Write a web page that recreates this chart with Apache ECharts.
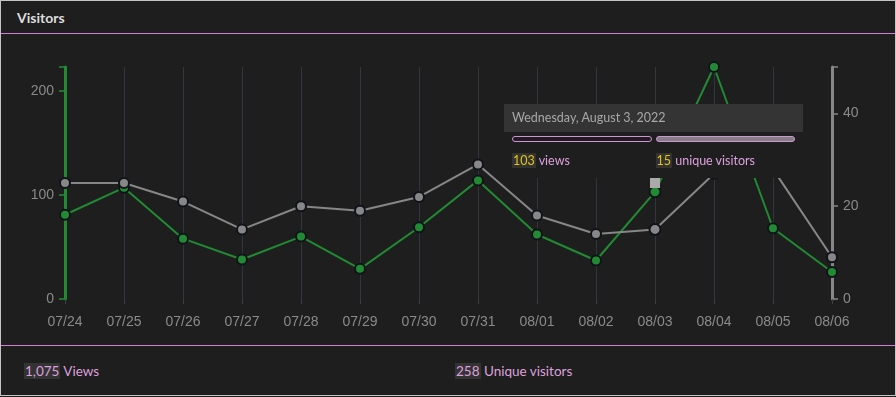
<!DOCTYPE html>
<html lang="en">
<head>
  <meta charset="UTF-8">
  <title>Visitors</title>
  <script src="https://cdn.jsdelivr.net/npm/echarts@6/dist/echarts.min.js"></script>
  <style>
    body { margin: 0; background: #1e1e1e; font-family: Lato, "Open Sans", sans-serif; }
    .panel { position: absolute; left: 0; top: 0; width: 894px; height: 394px; border: 1px solid #c4c4c4; background: #1e1e1e; }
    .panel-heading { height: 33px; border-bottom: 1px solid #cf7fd6; color: #dcdcdc; font-weight: 700; font-size: 14px; line-height: 33px; padding-left: 16px; box-sizing: border-box; }
    #visitors { position: absolute; left: 0; top: 34px; width: 894px; height: 310px; }
    .panel-footer { position: absolute; left: 0; top: 344px; width: 894px; height: 50px; border-top: 1px solid #cf7fd6; color: #dda0dd; font-size: 13.5px; }
    .panel-footer span.stat { position: absolute; top: 16px; line-height: 19px; }
    .num { background: #333; padding: 0 1px; }
  </style>
</head>
<body>

<div class="panel">
  <div class="panel-heading">Visitors</div>
  <div id="visitors"></div>
  <div class="panel-footer">
    <span class="stat" style="left:23px"><span class="num" id="totalViews"></span> Views</span>
    <span class="stat" style="left:454px"><span class="num" id="totalUnique"></span> Unique visitors</span>
  </div>
</div>

<script>
  // daily stats, 2022
  var year = 2022;
  var days = ["07/24", "07/25", "07/26", "07/27", "07/28", "07/29", "07/30", "07/31", "08/01", "08/02", "08/03", "08/04", "08/05", "08/06"];
  var views = [81, 107, 58, 38, 60, 29, 69, 114, 62, 37, 103, 223, 68, 26];
  var uniques = [25, 25, 21, 15, 20, 19, 22, 29, 18, 14, 15, 27, 28, 9];
  var viewTicks = [0, 100, 200];
  var uniqueTicks = [0, 20, 40];
  var uniqueMax = 50;
  var totalViews = "1,075";
  var totalUnique = "258";
  var hoverIndex = 10;

  var labelColor = "#8a8a8a";
  var green = "#218a33";
  var gray = "#878787";

  document.getElementById("totalViews").textContent = totalViews;
  document.getElementById("totalUnique").textContent = totalUnique;

  function longDate(day) {
    var d = new Date(year + "/" + day);
    return d.toLocaleDateString("en-US", {weekday: "long", year: "numeric", month: "long", day: "numeric"});
  }

  function tipHtml(params) {
    var i = params[0].dataIndex;
    var bar = "height:4px;border:1px solid #d690dc;border-radius:3px;flex:1;";
    var num = "background:#333;color:#e6c419;padding:0 1px;";
    return '<div style="position:relative;width:299px;height:74px;font-family:Lato,sans-serif;font-size:12.5px;">' +
      '<div style="background:#343434;height:28px;line-height:28px;padding-left:8px;color:#a8a8a8;">' + longDate(days[i]) + '</div>' +
      '<div style="display:flex;gap:4px;padding:4px 8px 0 8px;">' +
        '<div style="' + bar + 'background:#1e1e1e;"></div>' +
        '<div style="' + bar + 'background:#808080;"></div>' +
      '</div>' +
      '<div style="display:flex;gap:4px;padding:11px 8px 0 8px;color:#dda0dd;line-height:16px;">' +
        '<div style="flex:1;"><span style="' + num + '">' + views[i] + '</span> views</div>' +
        '<div style="flex:1;"><span style="' + num + '">' + uniques[i] + '</span> unique visitors</div>' +
      '</div>' +
      '<div style="position:absolute;left:146px;top:74px;width:10px;height:10px;background:#aaaaaa;"></div>' +
      '</div>';
  }

  var chart = echarts.init(document.getElementById("visitors"));
  var axisFont = {color: labelColor, fontSize: 14, fontFamily: "Liberation Sans, Arial, sans-serif"};

  chart.setOption({
    animation: false,
    backgroundColor: "#1e1e1e",
    grid: {left: 64, right: 63, top: 32, bottom: 46},
    tooltip: {
      trigger: "axis",
      alwaysShowContent: true,
      transitionDuration: 0,
      axisPointer: {type: "none"},
      backgroundColor: "#1e1e1e",
      borderWidth: 0,
      padding: 0,
      extraCssText: "box-shadow:none;border-radius:0;",
      position: function () { return [503, 69]; },
      formatter: tipHtml
    },
    xAxis: {
      type: "category",
      data: days,
      boundaryGap: false,
      axisLine: {show: false},
      axisTick: {show: true, length: 5, lineStyle: {color: "#3a3f46"}},
      splitLine: {show: true, lineStyle: {color: "#30363d", width: 1}},
      axisLabel: Object.assign({margin: 16}, axisFont)
    },
    yAxis: [
      {
        type: "value",
        min: 0,
        max: "dataMax",
        interval: 100,
        position: "left",
        splitLine: {show: false},
        axisLine: {show: true, lineStyle: {color: green, width: 3}},
        axisTick: {show: true, length: 6, lineStyle: {color: green, width: 1.5}},
        axisLabel: Object.assign({margin: 11, customValues: viewTicks}, axisFont)
      },
      {
        type: "value",
        min: 0,
        max: uniqueMax,
        interval: 20,
        position: "right",
        splitLine: {show: false},
        axisLine: {show: true, lineStyle: {color: gray, width: 3}},
        axisTick: {show: true, length: 6, lineStyle: {color: gray, width: 1.5}},
        axisLabel: Object.assign({margin: 11, customValues: uniqueTicks}, axisFont)
      }
    ],
    series: [
      {
        name: "views",
        type: "line",
        yAxisIndex: 0,
        data: views,
        symbol: "circle",
        symbolSize: 10,
        lineStyle: {color: green, width: 2},
        itemStyle: {color: green, borderColor: "#10141a", borderWidth: 2},
        emphasis: {disabled: true}
      },
      {
        name: "unique visitors",
        type: "line",
        yAxisIndex: 1,
        data: uniques,
        symbol: "circle",
        symbolSize: 10,
        lineStyle: {color: gray, width: 2},
        itemStyle: {color: gray, borderColor: "#10141a", borderWidth: 2},
        emphasis: {disabled: true}
      }
    ]
  });

  chart.dispatchAction({type: "showTip", seriesIndex: 0, dataIndex: hoverIndex});
</script>
</body>
</html>
